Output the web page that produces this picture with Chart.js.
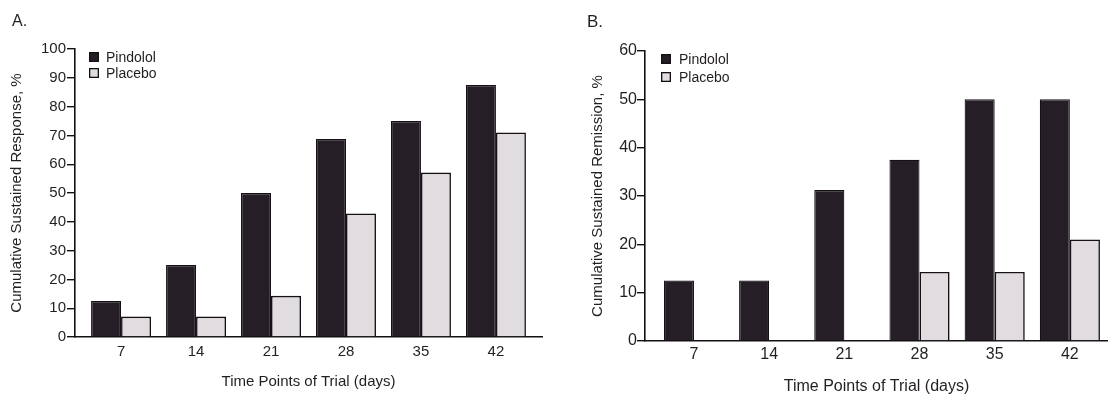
<!DOCTYPE html>
<html><head><meta charset="utf-8">
<script src="https://cdn.jsdelivr.net/npm/chart.js@4.4.1/dist/chart.umd.min.js"></script>
<style>
html,body{margin:0;padding:0;background:#fff;width:1108px;height:396px;overflow:hidden;}
#wrapA{position:absolute;left:0;top:0;width:560px;height:396px;}
#wrapB{position:absolute;left:581px;top:0;width:527px;height:396px;}
canvas{display:block;}
</style></head><body>
<div id="wrapA"><canvas id="chartA" width="560" height="396"></canvas></div>
<div id="wrapB"><canvas id="chartB" width="527" height="396"></canvas></div>
<script>
// ---- data ----
const categories = [7, 14, 21, 28, 35, 42];
const tickLabels = ['7', '14', '21', '28', '35', '42'];
const seriesNames = ['Pindolol', 'Placebo'];
const responsePindolol = [12.5, 25, 50, 68.75, 75, 87.5];
const responsePlacebo = [7.1, 7.1, 14.3, 42.9, 57.1, 71];
const remissionPindolol = [12.5, 12.5, 31.25, 37.5, 50, 50];
const remissionPlacebo = [0, 0, 0, 14.3, 14.3, 21];
const panelTitles = ['A.', 'B.'];
const xTitle = 'Time Points of Trial (days)';
const yTitles = ['Cumulative Sustained Response, %', 'Cumulative Sustained Remission, %'];

// ---- styles ----
const FAMILY = '"Liberation Sans", Arial, sans-serif';
const TEXT = '#231f20';
const AXIS = '#141014';
const PIN = '#261e27';
const PLA = '#e0dce0';

const decor = {
  id: 'decor',
  afterDraw(chart, args, o) {
    const ctx = chart.ctx;
    ctx.save();
    ctx.fillStyle = TEXT;
    ctx.textAlign = 'left';
    ctx.textBaseline = 'alphabetic';
    ctx.font = o.panelSize + 'px ' + FAMILY;
    ctx.fillText(o.panel, o.panelX, o.panelY);
    chart.data.datasets.forEach((ds, i) => {
      const y = o.legY + i * o.legGap;
      ctx.fillStyle = ds.backgroundColor;
      ctx.fillRect(o.legX, y - 5, 10, 10);
      ctx.strokeStyle = AXIS;
      ctx.lineWidth = 1.3;
      ctx.strokeRect(o.legX + 0.65, y - 4.35, 8.7, 8.7);
      ctx.fillStyle = TEXT;
      ctx.font = '14px ' + FAMILY;
      ctx.textBaseline = 'middle';
      ctx.fillText(ds.label, o.legX + o.textDx, y + 1);
    });
    ctx.restore();
  }
};

function makeChart(id, p) {
  return new Chart(document.getElementById(id), {
    type: 'bar',
    data: {
      datasets: [
        { label: seriesNames[0], data: categories.map((c, i) => ({ x: c, y: p.pin[i] })),
          backgroundColor: PIN, borderColor: AXIS, borderWidth: 1.2 },
        { label: seriesNames[1], data: categories.map((c, i) => ({ x: c, y: p.pla[i] })),
          backgroundColor: PLA, borderColor: AXIS, borderWidth: 1.6 }
      ]
    },
    options: {
      responsive: false, animation: false, devicePixelRatio: 1,
      layout: { padding: { left: 0, right: p.padR, top: p.padT, bottom: 0 } },
      datasets: { bar: { categoryPercentage: 0.8, barPercentage: 1.0 } },
      plugins: {
        legend: { display: false }, tooltip: { enabled: false },
        decor: p.decor
      },
      scales: {
        x: {
          type: 'linear', min: p.xMin, max: p.xMax, offset: false,
          afterBuildTicks: s => { s.ticks = categories.map(v => ({ value: v })); },
          afterFit: s => { s.height = p.xH; },
          grid: { display: false, drawTicks: false, offset: false },
          border: { display: true, color: AXIS, width: 1.6 },
          ticks: { padding: p.xPad, autoSkip: false, maxRotation: 0, color: TEXT,
                   font: { family: FAMILY, size: p.tickSize },
                   callback: v => { const k = categories.indexOf(v); return k >= 0 ? tickLabels[k] : ''; } },
          title: { display: true, text: xTitle, color: TEXT,
                   font: { family: FAMILY, size: p.xTitleSize },
                   padding: { top: 0, bottom: p.xTitlePadB } }
        },
        y: {
          type: 'linear', min: 0, max: p.yMax,
          afterFit: s => { s.width = p.yW; },
          ticks: { stepSize: 10, padding: p.yPad, color: TEXT, font: { family: FAMILY, size: p.tickSize } },
          grid: { display: true, drawOnChartArea: false, drawTicks: true, tickLength: 8, color: AXIS, lineWidth: 1.4 },
          border: { display: true, color: AXIS, width: 1.6 },
          title: { display: true, text: p.yTitle, color: TEXT,
                   font: { family: FAMILY, size: 15 },
                   padding: { top: 8, bottom: 0 } }
        }
      }
    },
    plugins: [decor]
  });
}

makeChart('chartA', {
  pin: responsePindolol, pla: responsePlacebo, yTitle: yTitles[0], yMax: 100,
  padR: 18, padT: 49, xH: 59, yW: 75, xMin: 2.7, xMax: 46.3,
  tickSize: 15, xPad: 6, yPad: 1, xTitleSize: 15, xTitlePadB: 5,
  decor: { panel: panelTitles[0], panelSize: 16, panelX: 12, panelY: 26,
           legX: 89, legY: 57, legGap: 16, textDx: 17 }
});
makeChart('chartB', {
  pin: remissionPindolol, pla: remissionPlacebo, yTitle: yTitles[1], yMax: 60,
  padR: 0, padT: 51, xH: 55, yW: 64, xMin: 2.44, xMax: 45.55,
  tickSize: 16, xPad: 4, yPad: 0, xTitleSize: 16, xTitlePadB: 0,
  decor: { panel: panelTitles[1], panelSize: 17, panelX: 6, panelY: 27,
           legX: 80, legY: 59, legGap: 18, textDx: 18 }
});
</script>
</body></html>
